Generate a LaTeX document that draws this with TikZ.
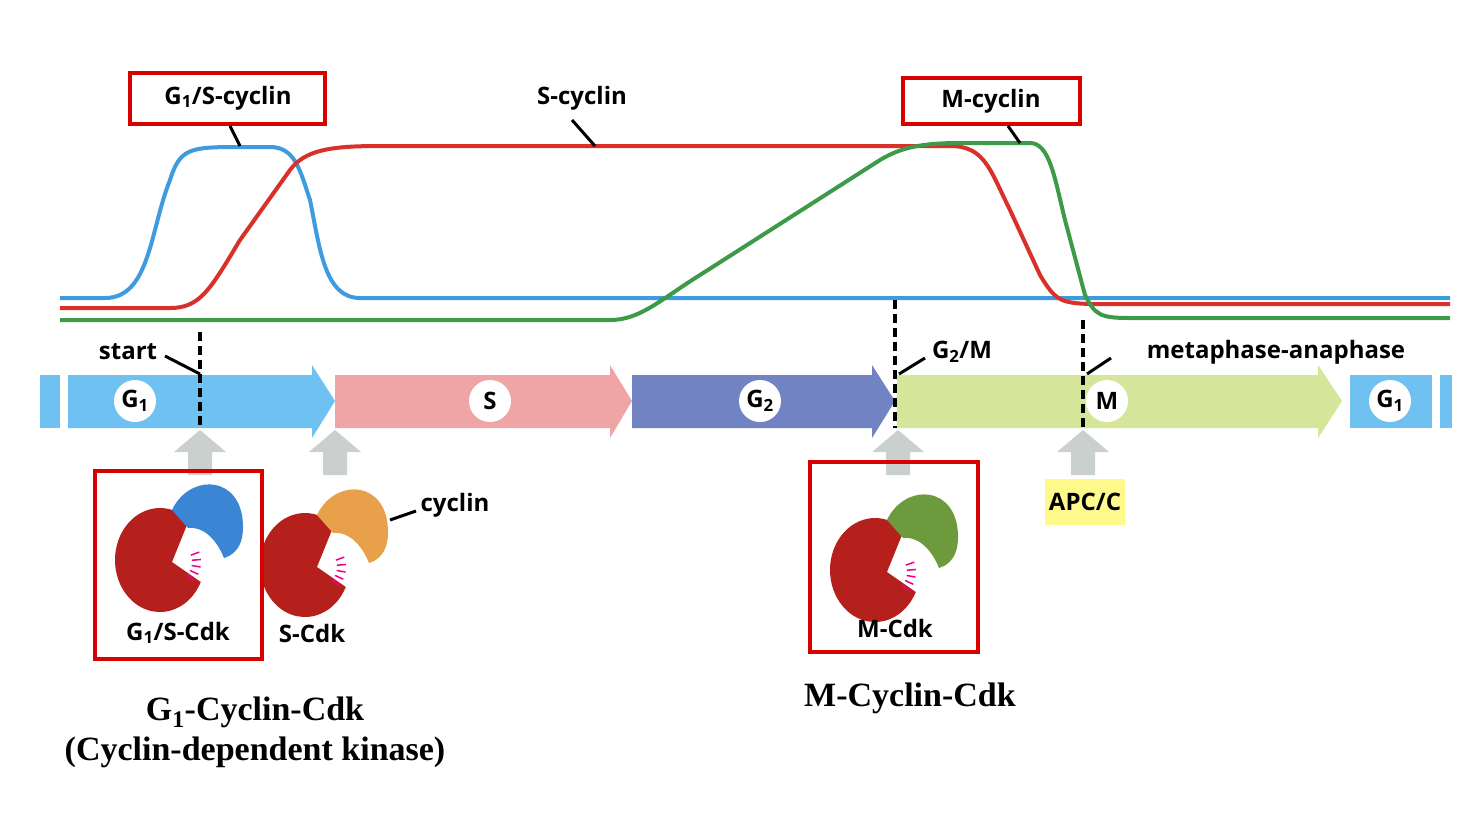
\documentclass[tikz,border=0pt]{standalone}
\usepackage{fontspec}
\setmainfont{Liberation Serif}
\newfontfamily\lab{Open Sans}
\begin{document}
\begin{tikzpicture}[x=1pt,y=-1pt,
  lbl/.style={font=\lab\bfseries\fontsize{24}{28}\selectfont,inner sep=1pt},
  ph/.style={circle,fill=white,minimum size=42pt,inner sep=0pt,font=\lab\bfseries\fontsize{24}{28}\selectfont},
  rbox/.style={draw=red!85!black,line width=3.5pt},
  curve/.style={line width=4pt},
  dsh/.style={line width=3.5pt,dash pattern=on 9pt off 5pt},
  lead/.style={line width=3pt},
  big/.style={font=\bfseries\fontsize{34}{38}\selectfont}]
\useasboundingbox (0,0) rectangle (1480,812);
\definecolor{cb}{HTML}{3E9BE0}\definecolor{cr}{HTML}{D9302A}\definecolor{cg}{HTML}{3C9A48}
\definecolor{g1}{HTML}{6EC1F0}\definecolor{sp}{HTML}{EFA5A5}\definecolor{g2}{HTML}{7283C4}\definecolor{mp}{HTML}{D5E59A}
\definecolor{gy}{HTML}{C9D0CD}\definecolor{cdk}{HTML}{B5201C}
\definecolor{cblue}{HTML}{3A86D4}\definecolor{corange}{HTML}{E8A04A}\definecolor{cgreen}{HTML}{6E9A3E}
\tikzset{cdkpic/.pic={
  \begin{scope}[yscale=-1]
  \fill[cdk] (12,-2) -- (50:45 and 52) arc[start angle=50,end angle=335,x radius=45,y radius=52] -- cycle;
  \fill[#1] (12,50) .. controls (28,84) and (74,86) .. (82,45) .. controls (86,20) and (78,6) .. (64,2) .. controls (56,22) and (42,34) .. (28,32) -- cycle;
  \foreach \a in {-40,-25,-10,5,20}{\draw[magenta,line width=1.5pt] (12,-2) ++(\a:20) -- ++(\a:9);}
  \end{scope}}}
% curves
\draw[curve,cb] (60,298) -- (105,298) .. controls (150,298) and (150,230) .. (170,180) .. controls (180,148) and (190,147) .. (240,147) -- (270,147) .. controls (295,147) and (300,170) .. (310,200) .. controls (320,250) and (325,298) .. (360,298) -- (1450,298);
\draw[curve,cr] (60,308) -- (170,308) .. controls (200,308) and (210,290) .. (240,240) -- (290,170) .. controls (305,150) and (330,146) .. (380,146) -- (950,146) .. controls (985,146) and (990,170) .. (1010,210) -- (1040,275) .. controls (1055,300) and (1060,303) .. (1090,304) -- (1450,304);
\draw[curve,cg] (60,320) -- (610,320) .. controls (640,320) and (660,300) .. (700,275) -- (880,160) .. controls (900,148) and (920,143) .. (960,143) -- (1030,143) .. controls (1050,143) and (1055,180) .. (1065,220) -- (1085,295) .. controls (1095,315) and (1100,318) .. (1130,318) -- (1450,318);
% band
\fill[g1] (40,375) rectangle (60,428);
\fill[g1] (68,375) -- (312,375) -- (312,365) -- (335,401) -- (312,438) -- (312,428) -- (68,428) -- cycle;
\fill[sp] (335,375) -- (610,375) -- (610,365) -- (632,401) -- (610,438) -- (610,428) -- (335,428) -- cycle;
\fill[g2] (632,375) -- (872,375) -- (872,365) -- (895,401) -- (872,438) -- (872,428) -- (632,428) -- cycle;
\fill[mp] (897,375) -- (1318,375) -- (1318,365) -- (1342,401) -- (1318,438) -- (1318,428) -- (897,428) -- cycle;
\fill[g1] (1350,375) rectangle (1432,428);
\fill[g1] (1440,375) rectangle (1452,428);
\node[ph] (pg1) at (135,401) {G\textsubscript{1}};
\node[ph] (ps) at (490,401) {S};
\node[ph] (pg2) at (760,401) {G\textsubscript{2}};
\node[ph] (pm) at (1107,401) {M};
\node[ph] (pg1b) at (1390,401) {G\textsubscript{1}};
% dashed
\draw[dsh] (200,332) -- (200,428);
\draw[dsh] (895,300) -- (895,428);
\draw[dsh] (1083,320) -- (1083,428);
% grey arrows
\foreach \x in {200,335,898,1083}{\fill[gy] (\x-12,475) -- (\x-12,452) -- (\x-26,452) -- (\x,430) -- (\x+26,452) -- (\x+12,452) -- (\x+12,475) -- cycle;}
% labels
\node[lbl] (start) at (128,352) {start};
\draw[lead] (165,356) -- (200,374);
\node[lbl] (g2m) at (962,352) {G\textsubscript{2}/M};
\draw[lead] (925,358) -- (899,374);
\node[lbl] (ma) at (1276,352) {metaphase-anaphase};
\draw[lead] (1111,358) -- (1087,374);
\node[lbl] (g1sc) at (228,98) {G\textsubscript{1}/S-cyclin};
\draw[rbox] (130,73) rectangle (325,124);
\draw[lead] (230,126) -- (240,146);
\node[lbl] (sc) at (582,98) {S-cyclin};
\draw[lead] (572,120) -- (595,146);
\node[lbl] (mc) at (991,101) {M-cyclin};
\draw[rbox] (903,78) rectangle (1080,124);
\draw[lead] (1008,126) -- (1020,143);
% proteins
\pic at (160,560) {cdkpic=cblue};
\pic at (305,565) {cdkpic=corange};
\pic at (875,570) {cdkpic=cgreen};
\node[lbl] (cyc) at (455,505) {cyclin};
\draw[lead] (390,520) -- (416,511);
\node[lbl] (g1scdk) at (178,633) {G\textsubscript{1}/S-Cdk};
\draw[rbox] (95,471) rectangle (262,659);
\node[lbl] (scdk) at (312,633) {S-Cdk};
\node[lbl] (mcdk) at (895,628) {M-Cdk};
\draw[rbox] (810,462) rectangle (978,652);
\node[lbl,fill=yellow!45,minimum width=80pt,minimum height=46pt] (apc) at (1085,502) {APC/C};
% big text
\node[big] (t1) at (255,712) {G\textsubscript{1}-Cyclin-Cdk};
\node[big] (t2) at (255,752) {(Cyclin-dependent kinase)};
\node[big] (t3) at (910,698) {M-Cyclin-Cdk};
\end{tikzpicture}
\end{document}
